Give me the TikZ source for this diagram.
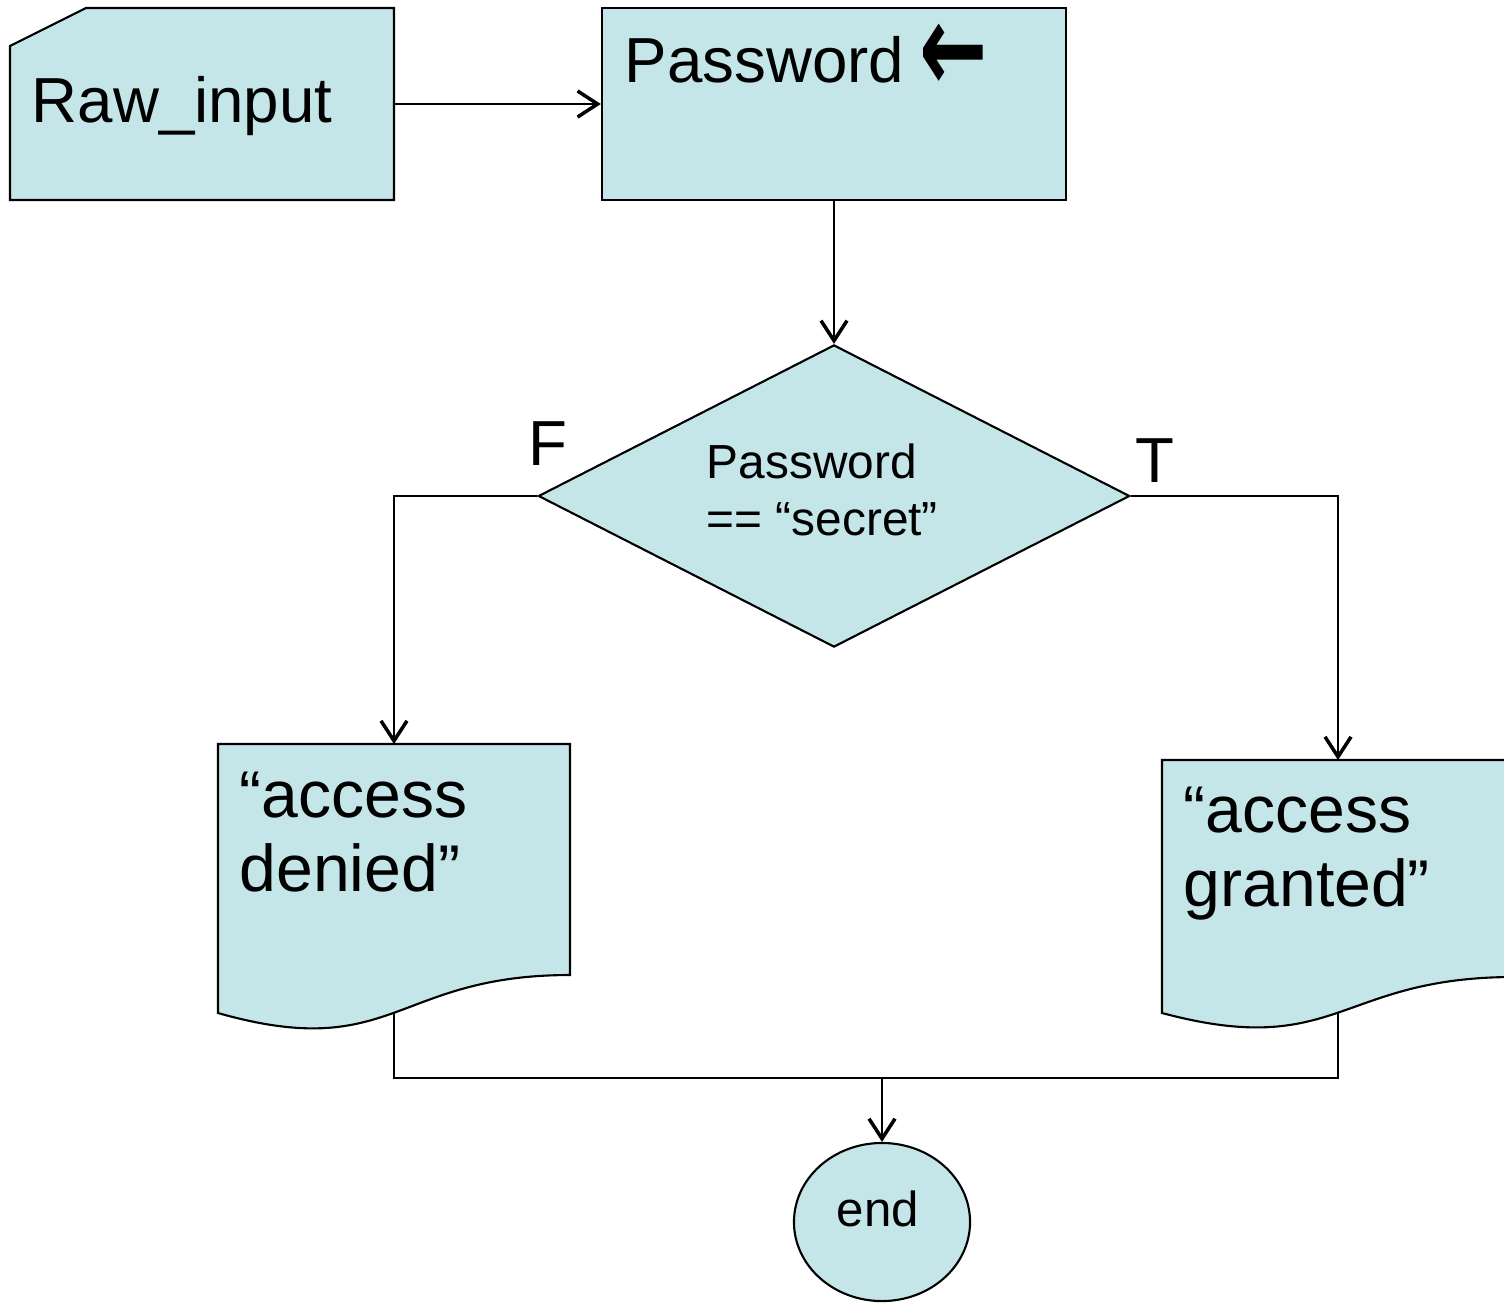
\documentclass[tikz,border=0pt]{standalone}
\usepackage{fontspec}
\setmainfont{Liberation Sans}
\newfontfamily\symfont{DejaVu Sans}
\usetikzlibrary{arrows.meta,shapes.geometric}
\definecolor{boxfill}{RGB}{196,230,232}
\begin{document}
\begin{tikzpicture}[x=0.01cm,y=-0.01cm,
  shapeline/.style={draw=black,line width=0.6pt,fill=boxfill},
  conn/.style={line width=0.6pt,-{Straight Barb[length=2mm,width=2.6mm,line width=1pt]}},
  plainline/.style={line width=0.6pt},
  bigtxt/.style={anchor=base west,inner sep=0pt,align=left,font=\fontsize{18.1}{20.8}\selectfont},
  doctxt/.style={anchor=base west,inner sep=0pt,align=left,font=\fontsize{18.8}{20.8}\selectfont},
  smalltxt/.style={anchor=base west,inner sep=0pt,align=left,font=\fontsize{13.6}{16.2}\selectfont}]
\useasboundingbox (0,0) rectangle (1504,1303);
\clip (0,0) rectangle (1504,1303);
% input card
\draw[shapeline] (10,46) -- (86,8) -- (394,8) -- (394,200) -- (10,200) -- cycle;
\coordinate (rawE) at (394,104);
\node[bigtxt] (rawtxt) at (31,122) {Raw\_input};
% password box
\node[shapeline,rectangle,minimum width=4.64cm,minimum height=1.92cm,inner sep=0pt] (pwd) at (834,104) {};
\node[bigtxt] (pwdtxt) at (624,82) {Password};
\node[anchor=center,inner sep=0pt,font=\symfont\bfseries\fontsize{19}{20}\selectfont] (pwdarrow) at (954,58) {\scalebox{1.22}[1.9]{←}};
% decision
\node[shapeline,diamond,minimum width=5.91cm,minimum height=3.02cm,inner sep=0pt] (dec) at (834,496) {};
\node[smalltxt] (dectxt) at (706,535) {Password\\== “secret”};
\node[bigtxt] (flbl) at (528,465) {F};
\node[bigtxt] (tlbl) at (1135,482) {T};
% denied document
\draw[shapeline] (218,744) -- (570,744) -- (570,975) .. controls (394,975) and (394,1063) .. (218,1013) -- cycle;
\coordinate (denN) at (394,744);
\coordinate (denS) at (394,1013);
\node[doctxt] (dentxt) at (239,891) {“access\\denied”};
% granted document
\draw[shapeline] (1162,760) -- (1514,760) -- (1514,977) .. controls (1338,977) and (1338,1060) .. (1162,1013) -- cycle;
\coordinate (graN) at (1338,760);
\coordinate (graS) at (1338,1013);
\node[doctxt] (gratxt) at (1183,906) {“access\\granted”};
% end
\node[shapeline,ellipse,minimum width=1.76cm,minimum height=1.58cm,inner sep=0pt] (endn) at (882,1222) {};
\node[anchor=base,inner sep=0pt,font=\fontsize{14}{16}\selectfont] (endtxt) at (878,1226) {end};
% connectors
\coordinate (join) at (882,1078);
\draw[conn] (rawE) -- (pwd.west);
\draw[conn] (pwd.south) -- (dec.north);
\draw[conn] (dec.west) -| (denN);
\draw[conn] (dec.east) -| (graN);
\draw[plainline] (denS) |- (join);
\draw[plainline] (graS) |- (join);
\draw[conn] (join) -- (endn.north);
\end{tikzpicture}
\end{document}
